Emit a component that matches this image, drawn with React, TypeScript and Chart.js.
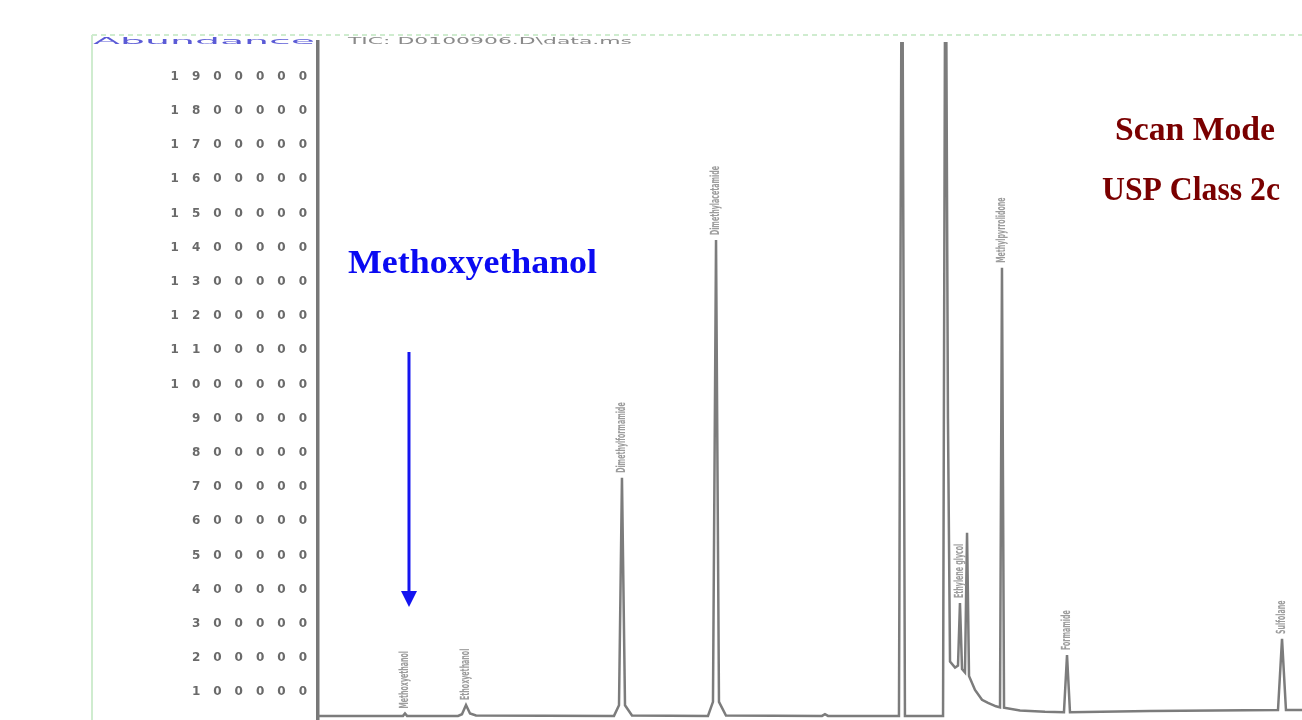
import React, { useEffect, useRef } from "react";
import { Chart, registerables } from "chart.js";

Chart.register(...registerables);

// Retention time (min) and abundance (counts) of the TIC trace
const retentionTime = [
  1.0, 1.864, 1.884, 1.905, 2.423, 2.463, 2.504, 2.545, 2.606, 4.008, 4.059, 4.089, 4.12, 4.191,
  4.963, 5.014, 5.045, 5.075, 5.146, 6.122, 6.152, 6.183, 6.904, 6.935, 6.965, 7.352, 7.377,
  7.402, 7.423, 7.474, 7.504, 7.524, 7.545, 7.575, 7.596, 7.616, 7.677, 7.748, 7.809, 7.89,
  7.931, 7.951, 7.972, 8.134, 8.388, 8.581, 8.612, 8.642, 9.455, 10.756, 10.797, 10.837, 11.0,
];
const abundance = [
  31000, 31000, 38000, 31000, 31000, 36000, 63000, 38000, 32000, 31000, 62000, 727000, 62000, 32000,
  31000, 72000, 1422000, 72000, 32000, 31000, 36000, 31000, 31000, 2600000, 31000, 31000, 2600000,
  900000, 190000, 172000, 178000, 361000, 168000, 158000, 566000, 148000, 107000, 78000, 69000, 59000,
  56000, 1341000, 55000, 47000, 43000, 42000, 209000, 42000, 45000, 48000, 256000, 48000, 48000,
];

const yTickValues = [
  100000, 200000, 300000, 400000, 500000, 600000, 700000, 800000, 900000, 1000000,
  1100000, 1200000, 1300000, 1400000, 1500000, 1600000, 1700000, 1800000, 1900000,
];

const peakNames = [
  "Methoxyethanol", "Ethoxyethanol", "Dimethylformamide", "Dimethylacetamide",
  "Ethylene glycol", "Methylpyrrolidone", "Formamide", "Sulfolane",
];
const peakTimes = [1.884, 2.504, 4.089, 5.045, 7.524, 7.951, 8.612, 10.797];

const yAxisTitle = "Abundance";
const traceTitle = "TIC: D0100906.D\\data.ms";
const annotationCompound = "Methoxyethanol";
const modeLine1 = "Scan Mode";
const modeLine2 = "USP Class 2c";

function stretchText(
  ctx: CanvasRenderingContext2D,
  text: string,
  left: number,
  baseline: number,
  width: number,
  font: string,
  color: string
) {
  ctx.save();
  ctx.font = font;
  ctx.fillStyle = color;
  ctx.textAlign = "left";
  ctx.textBaseline = "alphabetic";
  const w = ctx.measureText(text).width;
  ctx.translate(left, baseline);
  ctx.scale(width / w, 1);
  ctx.fillText(text, 0, 0);
  ctx.restore();
}

export default function App() {
  const ref = useRef<HTMLCanvasElement>(null);

  useEffect(() => {
    const canvas = ref.current;
    if (!canvas) return;

    const annotate = {
      id: "annotate",
      beforeDraw(chart: any) {
        (chart.ctx as any).letterSpacing = "13px";
      },
      afterDraw(chart: any) {
        const ctx = chart.ctx as CanvasRenderingContext2D;
        const xs = chart.scales.x;
        const ys = chart.scales.y;
        ctx.save();
        (ctx as any).letterSpacing = "0px";

        // outer frame of the original report
        ctx.strokeStyle = "#cfeccf";
        ctx.lineWidth = 2;
        ctx.setLineDash([5, 4]);
        ctx.beginPath();
        ctx.moveTo(92, 35);
        ctx.lineTo(1302, 35);
        ctx.stroke();
        ctx.setLineDash([]);
        ctx.beginPath();
        ctx.moveTo(92, 35);
        ctx.lineTo(92, 720);
        ctx.stroke();

        // header texts
        stretchText(ctx, yAxisTitle, 93, 44, 222, "9px 'DejaVu Sans'", "#5b5bd6");
        stretchText(ctx, traceTitle, 348, 44, 284, "9px 'DejaVu Sans'", "#8a8a8a");

        // peak labels (rotated)
        ctx.fillStyle = "#9c9c9c";
        ctx.font = "bold 7px 'DejaVu Sans Condensed'";
        peakTimes.forEach((t, i) => {
          const idx = retentionTime.indexOf(t);
          const px = xs.getPixelForValue(t);
          const py = ys.getPixelForValue(abundance[idx]);
          ctx.save();
          ctx.translate(px, py - 5);
          ctx.rotate(-Math.PI / 2);
          ctx.scale(1, 1.8);
          ctx.textAlign = "left";
          ctx.textBaseline = "middle";
          ctx.fillText(peakNames[i], 0, 0);
          ctx.restore();
        });

        // annotation arrow
        const ax = xs.getPixelForValue(peakTimes[0]) + 4;
        ctx.strokeStyle = "#1414f0";
        ctx.fillStyle = "#1414f0";
        ctx.lineWidth = 3;
        ctx.beginPath();
        ctx.moveTo(ax, 352);
        ctx.lineTo(ax, 596);
        ctx.stroke();
        ctx.beginPath();
        ctx.moveTo(ax - 8, 591);
        ctx.lineTo(ax + 8, 591);
        ctx.lineTo(ax, 607);
        ctx.closePath();
        ctx.fill();

        stretchText(ctx, annotationCompound, 348, 273, 249, "bold 33px 'Liberation Serif'", "#0a0af2");
        stretchText(ctx, modeLine1, 1115, 140, 160, "bold 33px 'Liberation Serif'", "#7a0000");
        stretchText(ctx, modeLine2, 1102, 200, 178, "bold 33px 'Liberation Serif'", "#7a0000");

        ctx.restore();
      },
    };

    const chart = new Chart(canvas, {
      type: "line",
      data: {
        datasets: [
          {
            label: traceTitle,
            data: retentionTime.map((t, i) => ({ x: t, y: abundance[i] })),
            borderColor: "#7c7c7c",
            borderWidth: 2.5,
            pointRadius: 0,
            tension: 0,
            fill: false,
          },
        ],
      },
      options: {
        responsive: false,
        animation: false,
        events: [],
        layout: { padding: { top: 42, left: 0, right: 0, bottom: 0 } },
        plugins: { legend: { display: false }, tooltip: { enabled: false } },
        scales: {
          x: { type: "linear", min: 1, max: 11, display: false },
          y: {
            type: "linear",
            min: 19000,
            max: 2001000,
            grid: { display: false, drawTicks: false },
            border: { display: true, color: "#787878", width: 3.5 },
            afterBuildTicks: (scale: any) => {
              scale.ticks = yTickValues.map((v) => ({ value: v }));
            },
            afterFit: (scale: any) => {
              scale.width = 318;
              scale.paddingTop = 0;
              scale.paddingBottom = 0;
            },
            ticks: {
              autoSkip: false,
              padding: -2,
              color: "#6a6a6a",
              font: { family: "'DejaVu Sans'", size: 12, weight: "bold" },
              callback: (v: any) => String(v),
            },
          },
        },
      },
      plugins: [annotate],
    });

    return () => chart.destroy();
  }, []);

  return (
    <div style={{ position: "absolute", left: 0, top: 0, width: 1302, height: 720, background: "#fff" }}>
      <canvas ref={ref} width={1302} height={720} style={{ display: "block" }} />
    </div>
  );
}
